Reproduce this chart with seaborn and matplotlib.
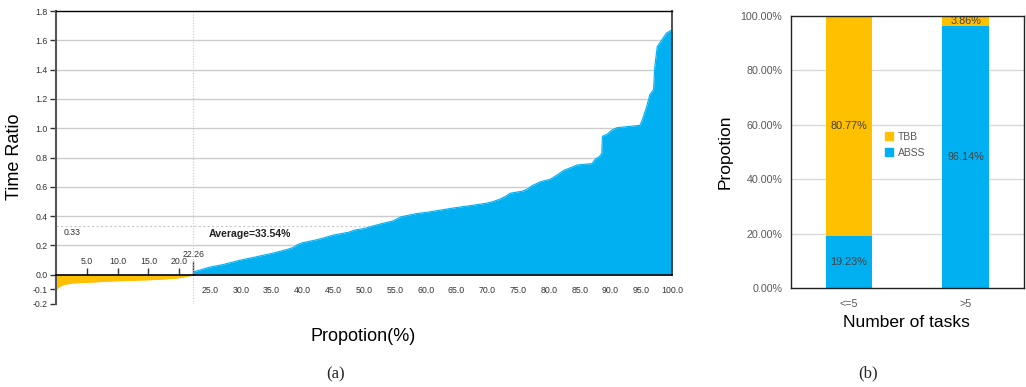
import matplotlib
matplotlib.use("Agg")
import matplotlib.pyplot as plt
import seaborn as sns
import pandas as pd
from matplotlib.lines import Line2D

# ---- data ----
# (a) sorted time ratio vs cumulative proportion
pct_neg = [0, 0.3, 0.7, 1.2, 1.7, 2.8, 5, 7.5, 10, 12.5, 15.2, 17.5, 19.6, 20.5, 21.2, 21.8, 22.26]
ratio_neg = [-0.104, -0.09, -0.077, -0.068, -0.063, -0.056, -0.052, -0.046, -0.041, -0.038, -0.034,
             -0.029, -0.022, -0.017, -0.011, -0.006, 0.0]

pct_pos = [22.26, 22.4, 25, 27, 30, 32.5, 35, 37.5, 38.5, 39.2, 40, 42.5, 45, 47.5, 48.5, 50, 51.5,
           53, 54.7, 56, 58.5, 60, 62.3, 64, 66.1, 68, 69.9, 71, 72, 73, 73.7, 75.8, 76.5, 77.4,
           78.5, 79.1, 80.2, 81.5, 82.4, 83.5, 84.5, 86, 87, 87.5, 88.3, 88.6, 88.7, 89.5, 90.2,
           91, 93, 94.8, 95.2, 95.9, 96.4, 97, 97.2, 97.6, 98.3, 99.1, 99.8, 100]
ratio_pos = [0.0, 0.02, 0.052, 0.068, 0.10, 0.122, 0.145, 0.172, 0.186, 0.205, 0.218, 0.24, 0.27,
             0.29, 0.305, 0.315, 0.333, 0.35, 0.367, 0.395, 0.417, 0.425, 0.44, 0.452, 0.465, 0.476,
             0.488, 0.5, 0.515, 0.535, 0.556, 0.571, 0.585, 0.61, 0.632, 0.64, 0.651, 0.685, 0.712,
             0.73, 0.748, 0.755, 0.758, 0.787, 0.81, 0.83, 0.945, 0.96, 0.986, 1.003, 1.012, 1.02,
             1.06, 1.15, 1.23, 1.263, 1.42, 1.558, 1.60, 1.65, 1.667, 1.67]

split_pct = 22.26
avg_ratio = 0.33
avg_label = "Average=33.54%"

ytick_vals = [-0.2, -0.1, 0.0, 0.2, 0.4, 0.6, 0.8, 1.0, 1.2, 1.4, 1.6, 1.8]
grid_vals = [0.2, 0.4, 0.6, 0.8, 1.0, 1.2, 1.4, 1.6]
low_ticks = [5, 10, 15, 20]
high_ticks = [25, 30, 35, 40, 45, 50, 55, 60, 65, 70, 75, 80, 85, 90, 95, 100]

# (b) proportion of winner by number of tasks
groups = ["<=5", ">5"]
abss = [19.23, 96.14]
tbb = [80.77, 3.86]

YELLOW = "#FFC000"
BLUE = "#00B0F0"
TICK_FS = 6.3

sns.set_style("white")
plt.rcParams["font.family"] = ["Liberation Sans", "DejaVu Sans"]

fig = plt.figure(figsize=(10.26, 3.87), dpi=100)

# ---------------- (a) ----------------
ax1 = fig.add_axes([0.0546, 0.2145, 0.6004, 0.757])
df_neg = pd.DataFrame({"pct": pct_neg, "ratio": ratio_neg})
df_pos = pd.DataFrame({"pct": pct_pos, "ratio": ratio_pos})

for g in grid_vals:
    ax1.axhline(g, color="#cccccc", lw=1, zorder=0)
ax1.axhline(avg_ratio, color="#c8c8c8", lw=0.8, ls=(0, (2, 2)), zorder=0.5)
ax1.axvline(split_pct, color="#c8c8c8", lw=0.8, ls=(0, (1, 1.5)), zorder=0.5)

ax1.fill_between(df_neg["pct"], df_neg["ratio"], 0, color=YELLOW, lw=0, zorder=1)
ax1.fill_between(df_pos["pct"], df_pos["ratio"], 0, color=BLUE, lw=0, zorder=1)
sns.lineplot(data=df_neg, x="pct", y="ratio", color=YELLOW, lw=0.8, ax=ax1, zorder=1)
sns.lineplot(data=df_pos, x="pct", y="ratio", color=BLUE, lw=0.8, ax=ax1, zorder=1)

ax1.set_xlim(0, 100)
ax1.set_ylim(-0.2, 1.8)
ax1.set_yticks(ytick_vals, labels=[f"{v:.1f}" for v in ytick_vals])
ax1.set_xticks(high_ticks, labels=[f"{v:.1f}" for v in high_ticks])
ax1.spines["bottom"].set_position(("data", 0))
ax1.spines["bottom"].set_zorder(3)
ax1.spines["bottom"].set_color("black")
ax1.spines["bottom"].set_linewidth(1.2)
ax1.spines["left"].set_color("#555555")
ax1.spines["left"].set_linewidth(1.5)
ax1.spines["top"].set_color("black")
ax1.spines["top"].set_linewidth(1)
ax1.spines["right"].set_color("#333333")
ax1.spines["right"].set_linewidth(1.2)
ax1.spines["right"].set_bounds(0, 1.8)
ax1.tick_params(axis="both", which="major", direction="out", length=4, width=1,
                color="#333333", labelsize=TICK_FS, labelcolor="#333333", pad=2)
ax1.tick_params(axis="x", length=5, pad=3)
ax1.tick_params(axis="y", left=True)
ax1.set_yticks([avg_ratio], minor=True)
ax1.tick_params(axis="y", which="minor", direction="in", length=3, width=0.8, color="#333333")

sec = ax1.secondary_xaxis(0.1)
sec.set_alignment("top")
sec.set_xticks(low_ticks, labels=[f"{v:.1f}" for v in low_ticks])
sec.set_xticks([split_pct], labels=[f"{split_pct:.2f}"], minor=True)
sec.tick_params(axis="x", which="major", direction="out", length=5, width=1, color="#333333",
                labelsize=TICK_FS, labelcolor="#333333", pad=1)
sec.tick_params(axis="x", which="minor", direction="out", length=10, width=1, color="#333333",
                labelsize=TICK_FS, labelcolor="#333333", pad=1.5)
sec.spines["top"].set_visible(False)

ax1.text(1.2, 0.29, f"{avg_ratio:.2f}", fontsize=TICK_FS, color="#333333", ha="left", va="center")
ax1.text(31.4, 0.277, avg_label, fontsize=7.6, fontweight="bold", color="#222222",
         ha="center", va="center")

ax1.set_xlabel("Propotion(%)", fontsize=13, color="black")
ax1.xaxis.set_label_coords(0.498, -0.111)
ax1.xaxis.label.set_va("center")
ax1.set_ylabel("Time Ratio", fontsize=13, color="black")
ax1.yaxis.set_label_coords(-0.067, 0.502)
ax1.yaxis.label.set_va("center")

# ---------------- (b) ----------------
ax2 = fig.add_axes([0.7707, 0.255, 0.2275, 0.7044])
totals = [a + t for a, t in zip(abss, tbb)]
df_b = pd.DataFrame({"group": groups, "total": totals, "ABSS": abss, "TBB": tbb})

for g in [20, 40, 60, 80]:
    ax2.axhline(g, color="#d9d9d9", lw=1, zorder=0)
sns.barplot(data=df_b, x="group", y="total", color=YELLOW, saturation=1, width=0.4,
            linewidth=0, ax=ax2, zorder=2)
sns.barplot(data=df_b, x="group", y="ABSS", color=BLUE, saturation=1, width=0.4,
            linewidth=0, ax=ax2, zorder=2)

for i, (a, t) in enumerate(zip(abss, tbb)):
    ax2.text(i, a / 2, f"{a:.2f}%", ha="center", va="center", fontsize=7.8, color="#404040",
             zorder=3)
    ax2.text(i, a + t / 2, f"{t:.2f}%", ha="center", va="center", fontsize=7.8, color="#404040",
             zorder=3)

ax2.set_xlim(-0.5, 1.5)
ax2.set_ylim(0, 100)
ax2.set_yticks([0, 20, 40, 60, 80, 100], labels=[f"{v:.2f}%" for v in [0, 20, 40, 60, 80, 100]])
ax2.tick_params(axis="both", length=0, labelsize=7.7, labelcolor="#595959")
ax2.tick_params(axis="y", pad=6)
ax2.tick_params(axis="x", pad=8)
for s in ax2.spines.values():
    s.set_visible(True)
    s.set_color("#222222")
    s.set_linewidth(1)
ax2.spines["top"].set_zorder(4)

handles = [Line2D([], [], marker="s", ls="", color=YELLOW, markersize=6),
           Line2D([], [], marker="s", ls="", color=BLUE, markersize=6)]
ax2.legend(handles, ["TBB", "ABSS"], loc="center", bbox_to_anchor=(0.49, 0.526),
           frameon=False, fontsize=7.5, handlelength=0.8, handletextpad=0.4,
           labelspacing=0.6, labelcolor="#595959")

ax2.set_xlabel("Number of tasks", fontsize=12.5, color="black")
ax2.xaxis.set_label_coords(0.497, -0.127)
ax2.xaxis.label.set_va("center")
ax2.set_ylabel("Propotion", fontsize=12.5, color="black")
ax2.yaxis.set_label_coords(-0.281, 0.5)
ax2.yaxis.label.set_va("center")

fig.text(336 / 1026, 1 - 374 / 387, "(a)", fontsize=12, family=["Liberation Serif"],
         ha="center", va="center")
fig.text(868 / 1026, 1 - 373 / 387, "(b)", fontsize=12, family=["Liberation Serif"],
         ha="center", va="center")

fig.savefig("out.png", dpi=100)
